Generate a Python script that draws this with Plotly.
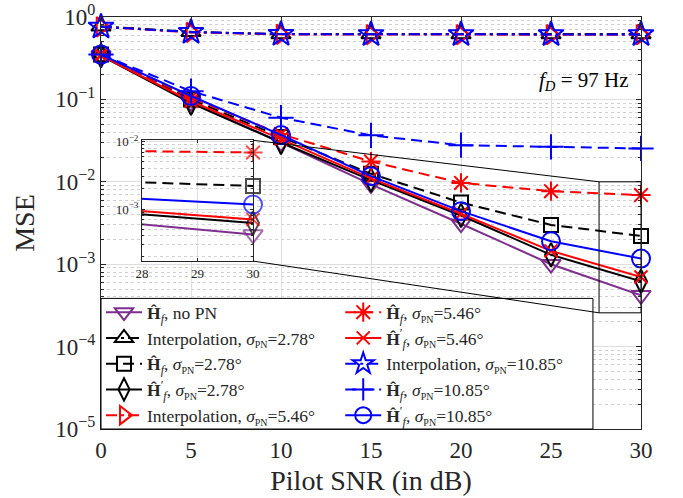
import plotly.graph_objects as go

# ---------------- data ----------------
snr_db = [0, 5, 10, 15, 20, 25, 30]

mse_nopn = [0.34, 0.092, 0.030, 0.0093, 0.0031, 0.00100, 0.00042]
mse_interp_278 = [0.77, 0.66, 0.62, 0.62, 0.62, 0.62, 0.62]
mse_hf_278 = [0.35, 0.100, 0.035, 0.0125, 0.0056, 0.0030, 0.0022]
mse_hfp_278 = [0.34, 0.090, 0.030, 0.0105, 0.0039, 0.0013, 0.00062]
mse_interp_546 = [0.76, 0.65, 0.615, 0.61, 0.61, 0.61, 0.61]
mse_hf_546 = [0.35, 0.105, 0.038, 0.0176, 0.0097, 0.0077, 0.0069]
mse_hfp_546 = [0.34, 0.095, 0.033, 0.0110, 0.0041, 0.00145, 0.00070]
mse_interp_1085 = [0.76, 0.655, 0.62, 0.615, 0.615, 0.615, 0.615]
mse_hf_1085 = [0.35, 0.126, 0.060, 0.0366, 0.0278, 0.0266, 0.0254]
mse_hfp_1085 = [0.35, 0.110, 0.037, 0.0117, 0.0044, 0.0019, 0.00117]

sig = "<i>σ</i><sub><span style='font-size:10px'>PN</span></sub>"
H = "<b>Ĥ</b><sub><i>f</i></sub>"
Hp = "<b>Ĥ</b><sup>′</sup><sub><i>f</i></sub>"
names = [
    H + ", no PN",
    "Interpolation, " + sig + "=2.78°",
    H + ", " + sig + "=2.78°",
    Hp + ", " + sig + "=2.78°",
    "Interpolation, " + sig + "=5.46°",
    H + ", " + sig + "=5.46°",
    Hp + ", " + sig + "=5.46°",
    "Interpolation, " + sig + "=10.85°",
    H + ", " + sig + "=10.85°",
    Hp + ", " + sig + "=10.85°",
]
series = [mse_nopn, mse_interp_278, mse_hf_278, mse_hfp_278, mse_interp_546,
          mse_hf_546, mse_hfp_546, mse_interp_1085, mse_hf_1085, mse_hfp_1085]

PURPLE = "#7E2F8E"
DASH = "11px,6px"
DASHDOT = "11px,4px,3px,4px"
styles = [
    dict(color=PURPLE, dash="solid", symbol="triangle-down-open", size=17),
    dict(color="black", dash=DASHDOT, symbol="triangle-up-open", size=17),
    dict(color="black", dash=DASH, symbol="square-open", size=14),
    dict(color="black", dash="solid", symbol="diamond-tall-open", size=17),
    dict(color="red", dash=DASHDOT, symbol="triangle-right-open", size=17),
    dict(color="red", dash=DASH, symbol="asterisk-open", size=16),
    dict(color="red", dash="solid", symbol="x-thin-open", size=13),
    dict(color="blue", dash=DASHDOT, symbol="star-open", size=19),
    dict(color="blue", dash=DASH, symbol="cross-thin-open", size=18),
    dict(color="blue", dash="solid", symbol="circle-open", size=18),
]
in_inset = [True, False, True, True, False, True, True, False, True, True]

FONT = "Liberation Serif"
AX = "#262626"
GRID = "#dedede"

fig = go.Figure()

for i, (nm, y, st) in enumerate(zip(names, series, styles)):
    fig.add_trace(go.Scatter(
        x=snr_db, y=y, name=nm, mode="lines+markers",
        line=dict(color=st["color"], dash=st["dash"], width=2),
        marker=dict(symbol=st["symbol"], size=st["size"], color=st["color"],
                    line=dict(color=st["color"], width=2)),
        cliponaxis=False,
        legend="legend" if i < 5 else "legend2",
    ))

# inset traces (last two SNR points, markers only at the last)
for i, (y, st) in enumerate(zip(series, styles)):
    if not in_inset[i]:
        continue
    fig.add_trace(go.Scatter(
        x=snr_db[-2:], y=y[-2:], mode="lines+markers", showlegend=False,
        line=dict(color=st["color"], dash=st["dash"], width=2),
        marker=dict(symbol=st["symbol"], size=[0, st["size"]], color=st["color"],
                    line=dict(color=st["color"], width=2)),
        cliponaxis=False, xaxis="x2", yaxis="y2",
    ))

main_exp = [0, -1, -2, -3, -4, -5]
inset_exp = [-2, -3]

def pw(e):
    return "10<sup>%s</sup>" % (str(e).replace("-", "−"))

IN_X = [0.0759, 0.2815]
IN_Y = [0.4076, 0.7008]
IN_XR = [28, 30]
IN_YR = [-3.77, -1.98]
RECT_X = [27.67, 30]
RECT_Y = [-3.59, -2.0]

fig.update_layout(
    width=683, height=498,
    margin=dict(l=101, r=42, t=9, b=69),
    paper_bgcolor="white", plot_bgcolor="white",
    font=dict(family=FONT, color=AX),
    xaxis=dict(range=[0, 30], tickvals=snr_db, showgrid=True, gridcolor=GRID,
               ticks="inside", ticklen=5, tickcolor=AX, mirror="ticks", showline=True,
               linecolor=AX, linewidth=1, zeroline=False, automargin=False,
               tickfont=dict(size=23, family=FONT, color=AX),
               title=dict(text="Pilot SNR (in dB)", font=dict(size=28, family=FONT, color=AX), standoff=8)),
    yaxis=dict(type="log", range=[-5, 0], tickvals=[10.0 ** e for e in main_exp],
               ticktext=[pw(e) for e in main_exp], showgrid=True, gridcolor=GRID,
               ticks="inside", ticklen=5, tickcolor=AX, mirror="ticks", showline=True,
               linecolor=AX, linewidth=1, zeroline=False, automargin=False,
               minor=dict(dtick="D1", showgrid=True, gridcolor="#d0d0d0", griddash="dot",
                          ticks="inside", ticklen=3, tickcolor=AX),
               tickfont=dict(size=23, family=FONT, color=AX),
               title=dict(text="MSE", font=dict(size=28, family=FONT, color=AX), standoff=12)),
    xaxis2=dict(domain=IN_X, anchor="y2", range=IN_XR, tickvals=[28, 29, 30],
                showgrid=True, gridcolor=GRID, ticks="inside", ticklen=3, tickcolor=AX,
                mirror="ticks", showline=True, linecolor=AX, linewidth=1, zeroline=False,
                tickfont=dict(size=13, family=FONT, color=AX)),
    yaxis2=dict(domain=IN_Y, anchor="x2", type="log", range=IN_YR,
                tickvals=[10.0 ** e for e in inset_exp], ticktext=[pw(e) for e in inset_exp],
                showgrid=True, gridcolor=GRID, ticks="inside", ticklen=3, tickcolor=AX,
                mirror="ticks", showline=True, linecolor=AX, linewidth=1, zeroline=False,
                minor=dict(dtick="D1", showgrid=True, gridcolor="#d0d0d0", griddash="dot",
                           ticks="inside", ticklen=2, tickcolor=AX),
                tickfont=dict(size=13, family=FONT, color=AX)),
    legend=dict(x=0.0, y=0.327, xanchor="left", yanchor="top", bgcolor="rgba(0,0,0,0)",
                font=dict(size=17.5, family=FONT, color=AX), itemwidth=36, tracegroupgap=0),
    legend2=dict(x=0.443, y=0.327, xanchor="left", yanchor="top", bgcolor="rgba(0,0,0,0)",
                 font=dict(size=17.5, family=FONT, color=AX), itemwidth=36, tracegroupgap=0),
    showlegend=True,
)

# legend box (white, covers grid)
fig.add_shape(type="rect", xref="paper", yref="paper", x0=0, x1=0.911, y0=0, y1=0.317,
              fillcolor="white", line=dict(color="black", width=1), layer="above")
# inset white background (drawn in the inset subplot, below its grid)
fig.add_shape(type="rect", xref="x2", yref="y2", x0=IN_XR[0], x1=IN_XR[1],
              y0=10 ** IN_YR[0], y1=10 ** IN_YR[1],
              fillcolor="white", line=dict(width=0), layer="below")
# zoom rectangle
fig.add_shape(type="rect", xref="x", yref="y", x0=RECT_X[0], x1=RECT_X[1],
              y0=10 ** RECT_Y[0], y1=10 ** RECT_Y[1], line=dict(color="black", width=1))

# connector lines
def px(xv):
    return xv / 30.0
def py(e):
    return (e + 5) / 5.0
fig.add_shape(type="line", xref="paper", yref="paper", x0=IN_X[1], y0=IN_Y[1],
              x1=px(RECT_X[0]), y1=py(RECT_Y[1]), line=dict(color="black", width=1))
fig.add_shape(type="line", xref="paper", yref="paper", x0=IN_X[1], y0=IN_Y[0],
              x1=px(RECT_X[0]), y1=py(RECT_Y[0]), line=dict(color="black", width=1))

fig.add_annotation(text="<i>f</i><sub><i>D</i></sub>\u00a0=\u00a097\u00a0Hz", xref="paper", yref="paper",
                   x=0.982, y=0.845, xanchor="right", yanchor="middle", showarrow=False,
                   font=dict(size=21, family=FONT, color="black"))

fig.write_html("out.html")
